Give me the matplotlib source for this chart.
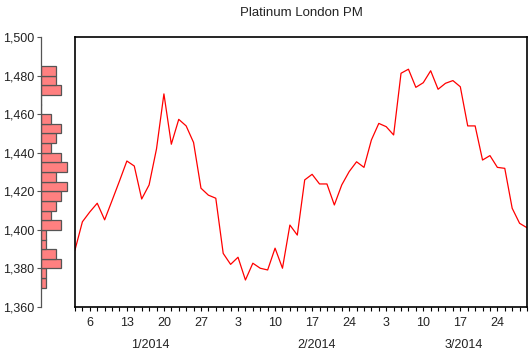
import matplotlib.pyplot as plt
import matplotlib.transforms as mtransforms
from matplotlib.ticker import FixedLocator, FuncFormatter
import numpy as np
import pandas as pd

plt.rcParams['font.family'] = ['Liberation Sans', 'DejaVu Sans']

# business days, Jan 2 - Mar 28 2014
dates = pd.bdate_range('2014-01-02', '2014-03-28')
price = [1389.6, 1404.2, 1409.3, 1413.8, 1405.2, 1415.2, 1425.3, 1435.7, 1433.1, 1416.0,
         1423.3, 1442.0, 1470.5, 1444.4, 1457.3, 1453.9, 1445.3, 1421.6, 1418.0, 1416.4,
         1387.8, 1382.1, 1385.8, 1374.0, 1382.7, 1380.1, 1379.2, 1390.5, 1380.1, 1402.5,
         1397.3, 1425.9, 1428.8, 1423.8, 1423.8, 1412.9, 1423.3, 1430.2, 1435.3, 1432.4,
         1446.6, 1455.2, 1453.5, 1449.2, 1481.2, 1483.3, 1473.9, 1476.3, 1482.5, 1472.9,
         1476.0, 1477.4, 1474.2, 1453.9, 1453.9, 1436.2, 1438.5, 1432.4, 1431.9, 1411.2,
         1403.4, 1401.1]
months = ['1/2014', '2/2014', '3/2014']
month_pos = [10.1, 32.6, 52.4]
bins = np.arange(1370, 1490, 5)

W, H = 530, 355
fig = plt.figure(figsize=(W / 100, H / 100), dpi=100)

# main line panel
ax = fig.add_axes([75 / W, (H - 307) / H, 452 / W, 270 / H])
x = np.arange(len(price))
ax.plot(x, price, color='#ff0000', lw=0.9)
ax.set_xlim(0, len(price) - 1)
ax.set_ylim(1360, 1500)
ax.set_yticks([])
for s in ax.spines.values():
    s.set_color('black')
    s.set_linewidth(1.2)

mondays = [i for i, d in enumerate(dates) if d.weekday() == 0]
ax.xaxis.set_major_locator(FixedLocator(mondays))
ax.set_xticklabels([str(dates[i].day) for i in mondays])
ax.xaxis.set_minor_locator(FixedLocator(x))
ax.tick_params(axis='x', which='both', direction='out', length=3, width=0.8,
               color='black', pad=4, labelsize=9, labelcolor='#222222')

trans = mtransforms.blended_transform_factory(ax.transData, ax.transAxes)
for m, p in zip(months, month_pos):
    ax.text(p, -0.142, m, transform=trans, ha='center', va='center',
            fontsize=9, color='#222222')

ax.set_title('Platinum London PM', fontsize=9.5, color='#222222', pad=15)

# histogram on the left
axh = fig.add_axes([41 / W, (H - 307) / H, 31 / W, 270 / H])
counts, edges = np.histogram(price, bins=bins)
axh.barh(edges[:-1], counts, height=5, align='edge', color='#ff8080',
         edgecolor='#555555', linewidth=0.9)
axh.set_ylim(1360, 1500)
axh.set_xlim(0, 31 / 5.1)
axh.set_xticks([])
axh.set_yticks(np.arange(1360, 1501, 20))
axh.yaxis.set_major_formatter(FuncFormatter(lambda v, p: '{:,.0f}'.format(v)))
axh.tick_params(axis='y', direction='out', length=3, width=0.8, color='#555555',
                pad=2, labelsize=9, labelcolor='#222222')
for k in ['top', 'right', 'bottom']:
    axh.spines[k].set_visible(False)
axh.spines['left'].set_color('#555555')
axh.spines['left'].set_linewidth(0.9)
axh.patch.set_alpha(0)

fig.savefig('out.png', dpi=100)
